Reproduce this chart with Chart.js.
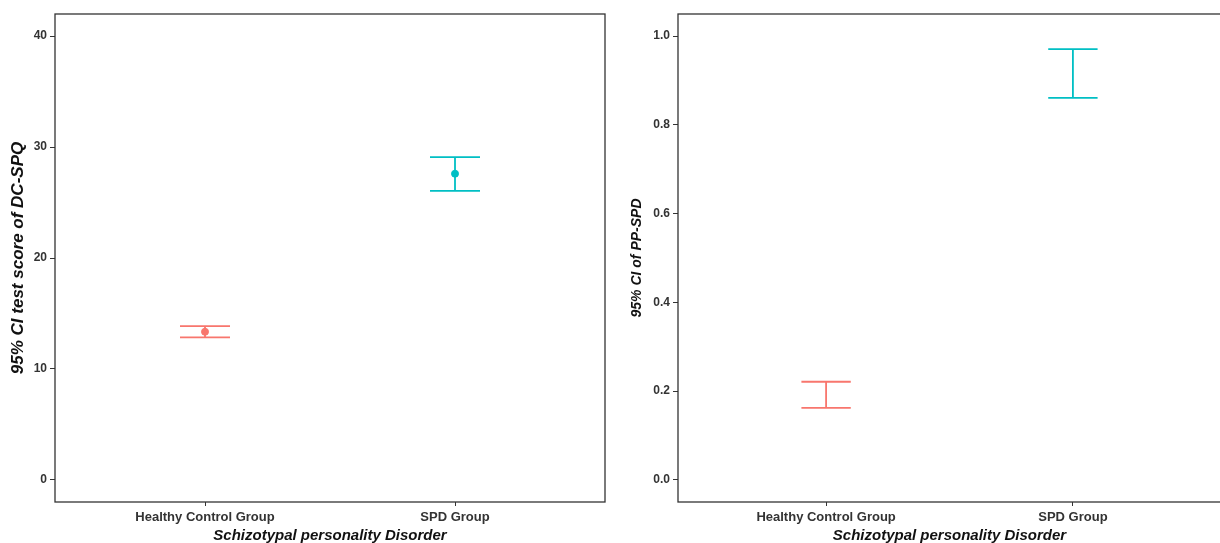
<!DOCTYPE html>
<html>
<head>
<meta charset="utf-8">
<script src="https://cdn.jsdelivr.net/npm/chart.js@4"></script>
<style>
html, body { margin: 0; padding: 0; background: #fff; overflow: hidden; width: 1220px; height: 543px; }
.panel { position: absolute; top: 0; height: 543px; }
</style>
</head>
<body>
<div class="panel" style="left:0;width:612px"><canvas id="dcChart"></canvas></div>
<div class="panel" style="left:612px;width:612px"><canvas id="ppChart"></canvas></div>
<script>
// ---------------------- Data ----------------------
const groups = ['Healthy Control Group', 'SPD Group'];
const groupColors = ['#F8766D', '#00BFC4'];

// DC-SPQ test score, 95% CI
const dcLower = [12.85, 26.05];
const dcUpper = [13.85, 29.1];
const dcMean = [13.35, 27.6];
const dcTicks = [0, 10, 20, 30, 40];

// PP-SPD, 95% CI
const ppLower = [0.162, 0.861];
const ppUpper = [0.221, 0.971];
const ppTicks = [0.0, 0.2, 0.4, 0.6, 0.8, 1.0];

const axisColor = '#333333';
const fontFamily = 'Liberation Sans, Arial, sans-serif';
const yTickFont = { family: fontFamily, size: 12, weight: 'bold' };
const xTickFont = { family: fontFamily, size: 13, weight: 'bold' };
const xTitleFont = { family: fontFamily, size: 15, weight: 'bold', style: 'italic', lineHeight: 1 };

// ---------------------- Plugins ----------------------
// draws the CI whiskers with caps, using the chart scales
const errorBarPlugin = {
  id: 'errorBars',
  beforeDatasetsDraw(chart, args, opts) {
    const { ctx, scales: { x, y } } = chart;
    ctx.save();
    ctx.lineWidth = 1.8;
    opts.lower.forEach((lo, i) => {
      const hi = opts.upper[i];
      const cx = x.getPixelForValue(i + 1);
      const x0 = x.getPixelForValue(i + 1 - opts.capWidth);
      const x1 = x.getPixelForValue(i + 1 + opts.capWidth);
      const yLo = y.getPixelForValue(lo);
      const yHi = y.getPixelForValue(hi);
      ctx.strokeStyle = groupColors[i];
      ctx.beginPath();
      ctx.moveTo(cx, yLo); ctx.lineTo(cx, yHi);
      ctx.moveTo(x0, yLo); ctx.lineTo(x1, yLo);
      ctx.moveTo(x0, yHi); ctx.lineTo(x1, yHi);
      ctx.stroke();
    });
    ctx.restore();
  }
};

// panel border like ggplot's theme_bw box
const boxPlugin = {
  id: 'panelBox',
  afterDraw(chart) {
    const { ctx, chartArea: a } = chart;
    ctx.save();
    ctx.strokeStyle = axisColor;
    ctx.lineWidth = 1.3;
    ctx.strokeRect(a.left, a.top, a.right - a.left, a.bottom - a.top);
    ctx.restore();
  }
};

// ---------------------- Build charts ----------------------
function makeChart(id, cfg) {
  const ctx = document.getElementById(id).getContext('2d');
  return new Chart(ctx, {
    type: 'scatter',
    data: {
      datasets: [{
        data: (cfg.mean || []).map((v, i) => ({ x: i + 1, y: v })),
        backgroundColor: groupColors,
        borderColor: groupColors,
        pointRadius: 3.5,
        pointHoverRadius: 3.5
      }]
    },
    plugins: [errorBarPlugin, boxPlugin],
    options: {
      responsive: true,
      maintainAspectRatio: false,
      animation: false,
      layout: { padding: { top: 14, right: cfg.padRight, left: 0, bottom: 0 } },
      plugins: {
        legend: { display: false },
        tooltip: { enabled: false },
        errorBars: { lower: cfg.lower, upper: cfg.upper, capWidth: 0.1 }
      },
      scales: {
        x: {
          type: 'linear',
          min: 0.4,
          max: 2.6,
          afterBuildTicks: s => { s.ticks = groups.map((g, i) => ({ value: i + 1 })); },
          afterFit: s => { s.height = 41; },
          ticks: {
            color: axisColor,
            font: xTickFont,
            padding: 4,
            maxRotation: 0,
            callback: v => groups[v - 1]
          },
          grid: { drawOnChartArea: false, tickLength: 4, color: axisColor },
          border: { display: false },
          title: { display: true, text: 'Schizotypal personality Disorder', color: '#111', font: xTitleFont, padding: { top: 0, bottom: 0 } }
        },
        y: {
          min: cfg.yMin,
          max: cfg.yMax,
          afterBuildTicks: s => { s.ticks = cfg.ticks.map(v => ({ value: v })); },
          afterFit: s => { s.width = cfg.yWidth; },
          ticks: {
            color: axisColor,
            font: yTickFont,
            padding: 3,
            callback: cfg.fmt
          },
          grid: { drawOnChartArea: false, tickLength: 5, color: axisColor },
          border: { display: false },
          title: {
            display: true, text: cfg.yTitle, color: '#111',
            font: { family: fontFamily, size: cfg.yTitleSize, weight: 'bold', style: 'italic', lineHeight: 1 },
            padding: { top: cfg.titlePad, bottom: 0 }
          }
        }
      }
    }
  });
}

makeChart('dcChart', {
  lower: dcLower, upper: dcUpper, mean: dcMean, ticks: dcTicks,
  yMin: -2, yMax: 42, yWidth: 55, padRight: 7, titlePad: 10, yTitleSize: 17,
  yTitle: '95% CI test score of DC-SPQ',
  fmt: v => String(v)
});

makeChart('ppChart', {
  lower: ppLower, upper: ppUpper, mean: null, ticks: ppTicks,
  yMin: -0.05, yMax: 1.05, yWidth: 66, padRight: 3, titlePad: 18, yTitleSize: 14,
  yTitle: '95% CI of PP-SPD',
  fmt: v => v.toFixed(1)
});
</script>
</body>
</html>
